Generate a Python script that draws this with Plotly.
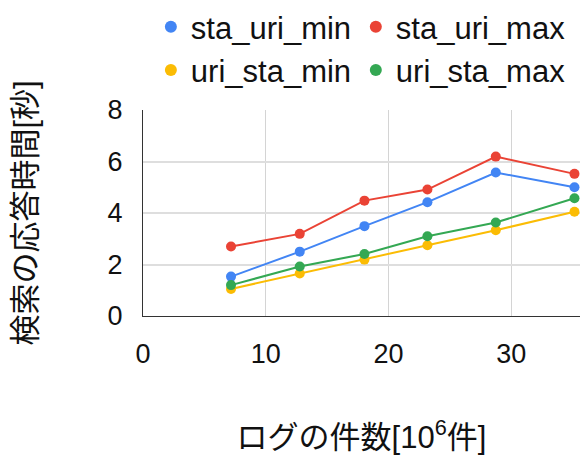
import plotly.graph_objects as go

# Log counts (millions) and search response times (seconds)
log_counts = [7.17, 12.77, 18.04, 23.17, 28.74, 35.15]
sta_uri_min = [1.53, 2.50, 3.49, 4.42, 5.57, 5.00]
sta_uri_max = [2.70, 3.19, 4.48, 4.91, 6.19, 5.52]
uri_sta_min = [1.05, 1.65, 2.19, 2.75, 3.33, 4.05]
uri_sta_max = [1.20, 1.92, 2.41, 3.10, 3.63, 4.57]

series_names = ["sta_uri_min", "sta_uri_max", "uri_sta_min", "uri_sta_max"]
series_values = [sta_uri_min, sta_uri_max, uri_sta_min, uri_sta_max]
series_colors = ["#4285F4", "#EA4335", "#FBBC04", "#34A853"]
# left legend column holds the *_min series, right column the *_max series
legend_column = ["legend", "legend2", "legend", "legend2"]

x_ticks = [0, 10, 20, 30]
y_ticks = [0, 2, 4, 6, 8]

FONT = "Arial, 'Liberation Sans', 'Noto Sans CJK JP', sans-serif"
TEXT = "#111111"

fig = go.Figure()

for name, vals, color in zip(series_names, series_values, series_colors):
    fig.add_trace(go.Scatter(
        x=log_counts, y=vals, mode="lines+markers", name=name,
        line=dict(color=color, width=2),
        marker=dict(color=color, size=10),
        showlegend=False, cliponaxis=False,
    ))

# Legend entries drawn as plain dots
for name, color, leg in zip(series_names, series_colors, legend_column):
    fig.add_trace(go.Scatter(
        x=[None], y=[None], mode="markers", name=name,
        marker=dict(color=color, size=11), legend=leg,
    ))

legend_style = dict(
    orientation="v", xref="paper", y=1.537, yref="paper",
    xanchor="left", yanchor="top",
    font=dict(size=31, color=TEXT),
    itemsizing="constant", tracegroupgap=0,
    bgcolor="rgba(0,0,0,0)",
)

fig.update_layout(
    width=580, height=455,
    margin=dict(l=143, r=0, t=110, b=139),
    paper_bgcolor="white", plot_bgcolor="white",
    font=dict(family=FONT, color=TEXT),
    legend=dict(x=0.018, **legend_style),
    legend2=dict(x=0.487, **legend_style),
    xaxis=dict(
        range=[0, 35.6], tickvals=x_ticks, ticks="",
        showgrid=True, gridcolor="#d4d4d4", gridwidth=1,
        showline=True, linecolor="#333333", linewidth=1,
        zeroline=False, tickfont=dict(size=27, color=TEXT),
        ticklabelstandoff=14,
        title=dict(text="ログの件数[10<sup>6</sup>件]", font=dict(size=31, color=TEXT), standoff=57),
        automargin=False,
    ),
    yaxis=dict(
        range=[0, 8], tickvals=y_ticks, ticks="",
        showgrid=True, gridcolor="#dedede", gridwidth=1.5,
        showline=True, linecolor="#333333", linewidth=1,
        zeroline=False, tickfont=dict(size=27, color=TEXT),
        ticklabelstandoff=14,
        title=dict(text="検索の応答時間[秒]", font=dict(size=31, color=TEXT), standoff=61),
        automargin=False,
    ),
)

fig.write_html("out.html")
